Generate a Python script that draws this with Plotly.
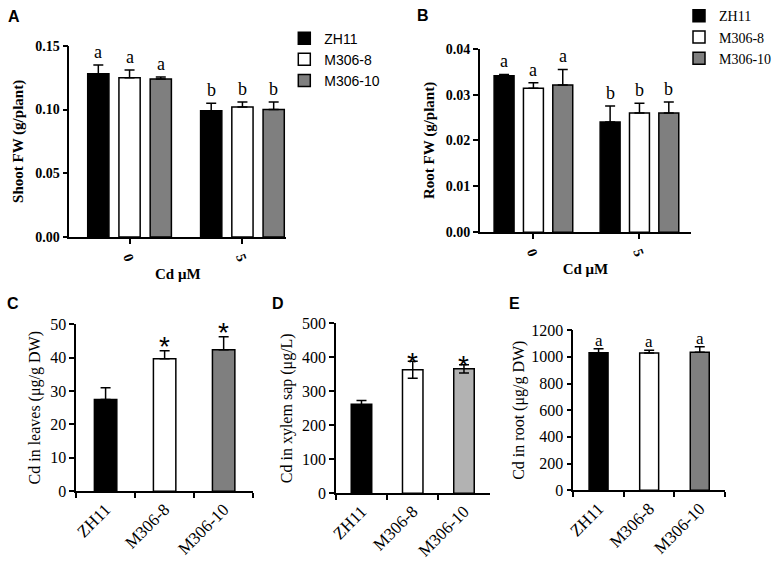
import plotly.graph_objects as go

# ---------------- data ----------------
genotypes = ["ZH11", "M306-8", "M306-10"]
cd_levels = ["0", "5"]

shoot_fw_zh11 = [0.128, 0.099]
shoot_fw_m8 = [0.125, 0.102]
shoot_fw_m10 = [0.124, 0.100]
shoot_err_zh11 = [0.007, 0.006]
shoot_err_m8 = [0.006, 0.004]
shoot_err_m10 = [0.0015, 0.006]
shoot_letters = [["a", "b"], ["a", "b"], ["a", "b"]]

root_fw_zh11 = [0.0341, 0.0240]
root_fw_m8 = [0.0314, 0.0260]
root_fw_m10 = [0.0321, 0.0260]
root_err_zh11 = [0.0003, 0.0035]
root_err_m8 = [0.0012, 0.0021]
root_err_m10 = [0.0034, 0.0024]
root_letters = [["a", "b"], ["a", "b"], ["a", "b"]]

cd_leaves = [27.5, 39.7, 42.4]
cd_leaves_err = [3.5, 2.4, 3.9]
cd_leaves_marks = ["", "*", "*"]

cd_xylem = [262, 363, 366]
cd_xylem_err = [11, 25, 12]
cd_xylem_marks = ["", "*", "*"]

cd_root = [1030, 1028, 1035]
cd_root_err = [30, 22, 40]
cd_root_marks = ["a", "a", "a"]

# ---------------- styles ----------------
W, H = 777, 572
SERIF = "Liberation Serif"
SANS = "Liberation Sans"
colors_ab = ["#000000", "#ffffff", "#7f7f7f"]
colors_d = ["#000000", "#ffffff", "#b2b2b2"]
BARGAP = 0.17
BARGROUPGAP = 0.32


def px_x(a, b):
    return [a / W, b / W]


def px_y(top, bottom):
    return [1 - bottom / H, 1 - top / H]


fig = go.Figure()

means_a = [shoot_fw_zh11, shoot_fw_m8, shoot_fw_m10]
errs_a = [shoot_err_zh11, shoot_err_m8, shoot_err_m10]
means_b = [root_fw_zh11, root_fw_m8, root_fw_m10]
errs_b = [root_err_zh11, root_err_m8, root_err_m10]

for i, g in enumerate(genotypes):
    fig.add_trace(go.Bar(
        x=[0, 1], y=means_a[i], name=g, xaxis="x", yaxis="y",
        marker=dict(color=colors_ab[i], line=dict(color="black", width=1.5)),
        error_y=dict(type="data", array=errs_a[i], arrayminus=[0, 0], symmetric=False,
                     color="black", thickness=1.5, width=5),
        legend="legend", offsetgroup=str(i), alignmentgroup="A",
    ))
for i, g in enumerate(genotypes):
    fig.add_trace(go.Bar(
        x=[0, 1], y=means_b[i], name=g, xaxis="x2", yaxis="y2",
        marker=dict(color=colors_ab[i], line=dict(color="black", width=1.5)),
        error_y=dict(type="data", array=errs_b[i], arrayminus=[0, 0], symmetric=False,
                     color="black", thickness=1.5, width=5),
        legend="legend2", offsetgroup=str(i), alignmentgroup="B",
    ))

fig.add_trace(go.Bar(
    x=genotypes, y=cd_leaves, xaxis="x3", yaxis="y3", showlegend=False, width=0.38,
    marker=dict(color=colors_ab, line=dict(color="black", width=1.5)),
    error_y=dict(type="data", array=cd_leaves_err, arrayminus=[0, 0, 0], symmetric=False,
                 color="black", thickness=1.5, width=5),
))
fig.add_trace(go.Bar(
    x=genotypes, y=cd_xylem, xaxis="x4", yaxis="y4", showlegend=False, width=0.40,
    marker=dict(color=colors_d, line=dict(color="black", width=1.5)),
    error_y=dict(type="data", array=cd_xylem_err, color="black", thickness=1.5, width=5),
))
fig.add_trace(go.Bar(
    x=genotypes, y=cd_root, xaxis="x5", yaxis="y5", showlegend=False, width=0.375,
    marker=dict(color=colors_ab, line=dict(color="black", width=1.5)),
    error_y=dict(type="data", array=cd_root_err, arrayminus=[0, 0, 0], symmetric=False,
                 color="black", thickness=1.5, width=5),
))

annotations = []
slot = (1 - BARGAP) / 3
for i in range(3):
    for gi in range(2):
        annotations.append(dict(
            x=gi + (i - 1) * slot, y=means_a[i][gi] + errs_a[i][gi], xref="x", yref="y",
            text=shoot_letters[i][gi], showarrow=False, yanchor="bottom", yshift=1,
            font=dict(family=SERIF, size=18, color="black")))
        annotations.append(dict(
            x=gi + (i - 1) * slot, y=means_b[i][gi] + errs_b[i][gi], xref="x2", yref="y2",
            text=root_letters[i][gi], showarrow=False, yanchor="bottom", yshift=1,
            font=dict(family=SERIF, size=18, color="black")))

for j, g in enumerate(genotypes):
    if cd_leaves_marks[j]:
        annotations.append(dict(
            x=g, y=cd_leaves[j] + cd_leaves_err[j], xref="x3", yref="y3",
            text=cd_leaves_marks[j], showarrow=False, yanchor="middle", yshift=4,
            font=dict(family=SANS, size=28, color="black")))
    if cd_xylem_marks[j]:
        annotations.append(dict(
            x=g, y=cd_xylem[j] + cd_xylem_err[j], xref="x4", yref="y4",
            text=cd_xylem_marks[j], showarrow=False, yanchor="middle", yshift=-1,
            font=dict(family=SANS, size=28, color="black")))
    if cd_root_marks[j]:
        annotations.append(dict(
            x=g, y=cd_root[j] + cd_root_err[j], xref="x5", yref="y5",
            text=cd_root_marks[j], showarrow=False, yanchor="bottom", yshift=-3,
            font=dict(family=SERIF, size=17, color="black")))

for lab, xp, yp in [("A", 7, 9), ("B", 428, 8), ("C", 6, 305), ("D", 279, 305), ("E", 522, 305)]:
    annotations.append(dict(
        x=xp / W, y=1 - yp / H, xref="paper", yref="paper", text="<b>" + lab + "</b>",
        showarrow=False, xanchor="center", yanchor="middle",
        font=dict(family=SANS, size=16, color="black")))

axis_common = dict(showline=True, linecolor="black", linewidth=1.5, ticks="outside",
                   ticklen=5, tickwidth=1.5, tickcolor="black", showgrid=False,
                   zeroline=False, fixedrange=True)
bold_tick = dict(family=SERIF, size=14, color="black", weight="bold")
reg_tick = dict(family=SERIF, size=16, color="black")
xcat_tick = dict(family=SERIF, size=17, color="black")
bold_title = dict(family=SERIF, size=15, color="black", weight="bold")

fig.update_layout(
    width=W, height=H, margin=dict(l=0, r=0, t=0, b=0),
    paper_bgcolor="white", plot_bgcolor="white",
    barmode="group", bargap=BARGAP, bargroupgap=BARGROUPGAP,
    annotations=annotations,
    xaxis=dict(axis_common, domain=px_x(64, 287), anchor="y", range=[-0.534, 1.388],
               tickvals=[0, 1], ticktext=cd_levels, tickangle=70,
               tickfont=bold_tick,
               title=dict(text="Cd μM", font=bold_title, standoff=6)),
    yaxis=dict(axis_common, domain=px_y(39, 236), anchor="x", range=[0, 0.15], dtick=0.05,
               tickformat=".2f", tickfont=bold_tick,
               title=dict(text="Shoot FW (g/plant)", font=bold_title, standoff=8)),
    xaxis2=dict(axis_common, domain=px_x(486, 703), anchor="y2", range=[-0.505, 1.486],
                tickvals=[0, 1], ticktext=cd_levels, tickangle=70,
                tickfont=bold_tick,
                title=dict(text="Cd μM", font=bold_title, standoff=6)),
    yaxis2=dict(axis_common, domain=px_y(42, 231), anchor="x2", range=[0, 0.04], dtick=0.01,
                tickformat=".2f", tickfont=bold_tick,
                title=dict(text="Root FW (g/plant)", font=bold_title, standoff=8)),
    xaxis3=dict(axis_common, domain=px_x(71, 253), anchor="y3", type="category",
                range=[-0.5, 2.5], tickson="boundaries", tickangle=-45, tickfont=xcat_tick),
    yaxis3=dict(axis_common, domain=px_y(326, 498), anchor="x3", range=[0, 50], dtick=10,
                tickfont=reg_tick,
                title=dict(text="Cd in leaves (μg/g DW)",
                           font=dict(family=SERIF, size=16, color="black"), standoff=6)),
    xaxis4=dict(axis_common, domain=px_x(338, 496), anchor="y4", type="category",
                range=[-0.5, 2.5], tickson="boundaries", tickangle=-45, tickfont=xcat_tick),
    yaxis4=dict(axis_common, domain=px_y(325, 500), anchor="x4", range=[0, 500], dtick=100,
                tickfont=reg_tick,
                title=dict(text="Cd in xylem sap (μg/L)",
                           font=dict(family=SERIF, size=16, color="black"), standoff=5)),
    xaxis5=dict(axis_common, domain=px_x(582, 738), anchor="y5", type="category",
                range=[-0.5, 2.5], tickson="boundaries", tickangle=-45, tickfont=xcat_tick),
    yaxis5=dict(axis_common, domain=px_y(332, 497), anchor="x5", range=[0, 1200], dtick=200,
                tickfont=reg_tick,
                title=dict(text="Cd in root (μg/g DW)",
                           font=dict(family=SERIF, size=16, color="black"), standoff=3)),
    legend=dict(x=285 / W, y=1 - 15 / H, xanchor="left", yanchor="top",
                font=dict(family=SANS, size=14, color="black"), bgcolor="rgba(0,0,0,0)"),
    legend2=dict(x=691 / W, y=1 + 8 / H, xanchor="left", yanchor="top",
                 font=dict(family=SERIF, size=14, color="black"), bgcolor="rgba(0,0,0,0)"),
)

fig.write_html("out.html", config={"displayModeBar": False},
               post_script="document.body.style.margin='0px';")
